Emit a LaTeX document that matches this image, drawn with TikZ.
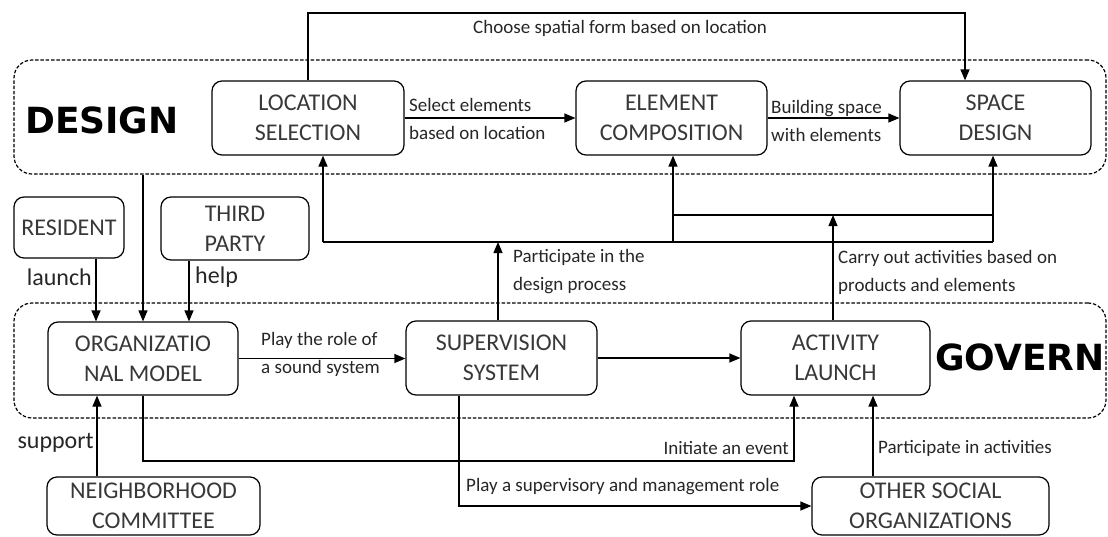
\documentclass[tikz,border=0pt]{standalone}
\usepackage{fontspec}
\setmainfont{Carlito}
\newfontfamily\heavyfont{DejaVu Sans}
\usetikzlibrary{arrows.meta}
\begin{document}
\begin{tikzpicture}[x=1pt,y=-1pt,
 box/.style={draw, line width=1.2pt, rounded corners=10pt, align=center, inner sep=0pt, text=black!78, font=\fontsize{24}{30}\selectfont},
 grp/.style={draw, dash pattern=on 3.5pt off 1.8pt, line width=1.2pt, rounded corners=18pt, inner sep=0pt},
 arr/.style={line width=1.2pt, -{Triangle[length=11pt,width=9pt]}},
 ln/.style={line width=1.2pt},
 lbl/.style={font=\fontsize{19}{28}\selectfont, inner sep=0pt, text=black!85, align=left},
 lblbig/.style={lbl, font=\fontsize{24}{28}\selectfont},
 big/.style={font=\heavyfont\bfseries\fontsize{36}{40}\selectfont, inner sep=0pt}]
\useasboundingbox (0,0) rectangle (1108,536);
% containers
\node[grp, minimum width=1092pt, minimum height=114pt] (dgrp) at (560,117) {};
\node[grp, minimum width=1092pt, minimum height=115pt] (ggrp) at (560,360.5) {};
\node[big, anchor=west] (dlab) at (25,120) {DESIGN};
\node[big, anchor=west] (glab) at (935,357.5) {GOVERN};
% boxes
\node[box, minimum width=192pt, minimum height=74pt] (loc) at (308,118) {LOCATION\\SELECTION};
\node[box, minimum width=191pt, minimum height=74pt] (elem) at (671.5,118) {ELEMENT\\COMPOSITION};
\node[box, minimum width=191pt, minimum height=74pt] (space) at (995.5,118) {SPACE\\DESIGN};
\node[box, minimum width=110pt, minimum height=61pt] (res) at (69,227.5) {RESIDENT};
\node[box, minimum width=148pt, minimum height=63pt] (third) at (235,228.5) {THIRD\\PARTY};
\node[box, minimum width=190pt, minimum height=73pt] (org) at (143,358.5) {ORGANIZATIO\\NAL MODEL};
\node[box, minimum width=191pt, minimum height=74pt] (sup) at (501.5,358) {SUPERVISION\\SYSTEM};
\node[box, minimum width=189pt, minimum height=74pt] (act) at (835.5,358) {ACTIVITY\\LAUNCH};
\node[box, minimum width=213pt, minimum height=58pt] (neigh) at (153.5,506) {NEIGHBORHOOD\\COMMITTEE};
\node[box, minimum width=237pt, minimum height=58pt] (other) at (930.5,506) {OTHER SOCIAL\\ORGANIZATIONS};
% labels
\node[lbl, anchor=west] (tchoose) at (473,28) {Choose spatial form based on location};
\node[lbl, anchor=west] (tsel) at (409,119) {Select elements\\based on location};
\node[lbl, anchor=west] (tbuild) at (771,121) {Building space\\with elements};
\node[lbl, anchor=west] (tplay) at (261,354) {Play the role of\\a sound system};
\node[lbl, anchor=west] (tpart) at (513,272) {Participate in the\\design process};
\node[lbl, anchor=west] (tcarry) at (838,272) {Carry out activities based on\\products and elements};
\node[lblbig, anchor=east] (tlaunch) at (92,277) {launch};
\node[lblbig, anchor=west] (thelp) at (195,277) {help};
\node[lblbig, anchor=east] (tsupport) at (94,443) {support};
\node[lbl, anchor=east] (tinit) at (789,448) {Initiate an event};
\node[lbl, anchor=west] (tpartact) at (878,448) {Participate in activities};
\node[lbl, anchor=west] (tsuperv) at (466,487) {Play a supervisory and management role};
% coordinates
\coordinate (ctop) at (965,13);
\coordinate (r1) at ([xshift=27pt]res.south);
\coordinate (t1) at ([xshift=-46pt]third.south);
\coordinate (jL) at (323,242);
\coordinate (jM) at (673,242);
\coordinate (jR) at (993,242);
\coordinate (k1) at (673,215);
\coordinate (k2) at (993,215);
\coordinate (s1) at ([xshift=-3.5pt]sup.north);
\coordinate (a1) at ([xshift=-2.5pt]act.north);
\coordinate (b2) at (794,461);
\coordinate (s2) at ([xshift=-42.5pt]sup.south);
\coordinate (o1) at ([xshift=-57.5pt]other.north);
\coordinate (n1) at ([xshift=-56.5pt]neigh.north);
% connectors
\draw[arr] (loc.north) |- (ctop) -- (ctop |- space.north);
\draw[arr] (loc.east) -- (elem.west);
\draw[arr] (elem.east) -- (space.west);
\draw[arr] (dgrp.south -| org.north) -- (org.north);
\draw[arr] (r1) -- (r1 |- org.north);
\draw[arr] (t1) -- (t1 |- org.north);
\draw[ln] (jL) -- (jR);
\draw[arr] (jL) -- (jL |- loc.south);
\draw[arr] (jM) -- (jM |- elem.south);
\draw[arr] (jR) -- (jR |- space.south);
\draw[arr] (s1) -- (s1 |- jL);
\draw[ln] (k1) -- (k2);
\draw[arr] (a1) -- (a1 |- k1);
\draw[arr] (org.east) -- (org.east -| sup.west);
\draw[arr] (sup.east) -- (act.west);
\draw[arr] (org.south) |- (b2) -- (b2 |- act.south);
\draw[arr] (s2) |- (other.west);
\draw[arr] (o1) -- (o1 |- act.south);
\draw[arr] (n1) -- (n1 |- org.south);
\end{tikzpicture}
\end{document}
